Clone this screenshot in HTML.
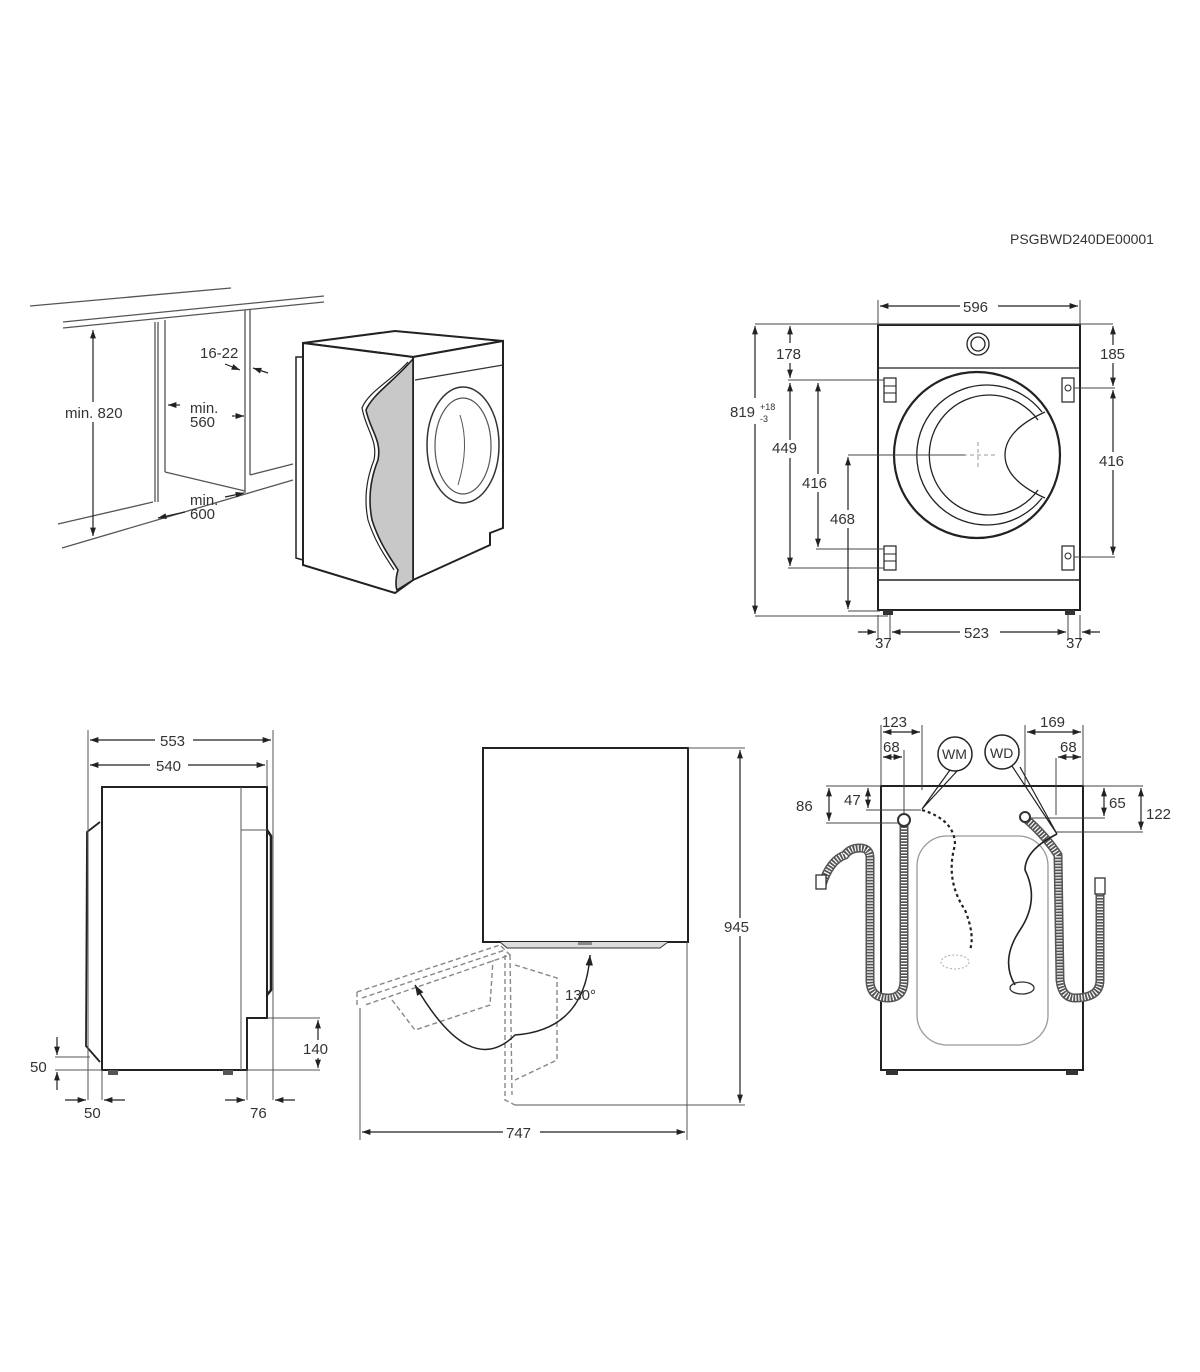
<!DOCTYPE html>
<html><head><meta charset="utf-8"><style>
html,body{margin:0;padding:0;background:#fff;}
svg{display:block;}
text{font-family:"Liberation Sans",sans-serif;font-size:15px;fill:#333;}
</style></head><body>
<svg width="1200" height="1372" viewBox="0 0 1200 1372" xmlns="http://www.w3.org/2000/svg">
<defs>
<marker id="a" viewBox="0 0 10 10" refX="10" refY="5" markerWidth="7" markerHeight="7" orient="auto-start-reverse"><path d="M0,1.5 L10,5 L0,8.5 z" fill="#222"/></marker>
</defs>
<text x="1010" y="244" style="font-size:14px">PSGBWD240DE00001</text>

<!-- TOP LEFT -->
<g stroke="#555" fill="none" stroke-width="1.3">
<line x1="30" y1="306" x2="231" y2="288"/>
<line x1="63" y1="322" x2="324" y2="296"/>
<line x1="63" y1="328" x2="324" y2="302"/>
<line x1="155" y1="322" x2="155" y2="502"/>
<line x1="158" y1="322" x2="158" y2="502"/>
<line x1="58" y1="524" x2="153" y2="502"/>
<line x1="62" y1="548" x2="293" y2="480"/>
<line x1="165" y1="320" x2="165" y2="472"/>
<line x1="165" y1="472" x2="245" y2="491"/>
<line x1="245" y1="310" x2="245" y2="493"/>
<line x1="250" y1="310" x2="250" y2="475"/>
<line x1="250" y1="475" x2="293" y2="464"/>
</g>
<g stroke="#222" stroke-width="1.2">
<line x1="93" y1="330" x2="93" y2="536" marker-start="url(#a)" marker-end="url(#a)"/>
<line x1="225" y1="364" x2="240" y2="370" marker-end="url(#a)"/>
<line x1="268" y1="373" x2="253" y2="368" marker-end="url(#a)"/>
<line x1="180" y1="405" x2="168" y2="405" marker-end="url(#a)"/>
<line x1="232" y1="416" x2="244" y2="416" marker-end="url(#a)"/>
<line x1="225" y1="497" x2="244" y2="493" marker-end="url(#a)"/>
<line x1="185" y1="512" x2="158" y2="518" marker-end="url(#a)"/>
</g>
<rect x="64" y="402" width="72" height="20" fill="#fff"/>
<text x="65" y="418">min. 820</text>
<text x="200" y="358">16-22</text>
<text x="190" y="413">min.</text><text x="190" y="427">560</text>
<text x="190" y="505">min.</text><text x="190" y="519">600</text>
<!-- machine 3d -->
<g stroke="#222" fill="#fff" stroke-width="2">
<path d="M296,357 L303,357 L303,560 L296,558 Z" stroke-width="1.5"/>
<path d="M303,343 L395,331 L503,341 L413,357 Z"/>
<path d="M303,343 L413,357 L413,580 L395,593 L303,565 Z"/>
<path d="M413,357 L503,341 L503,528 L490,533 L490,545 L413,580 Z"/>
</g>
<line x1="415" y1="380" x2="503" y2="365" stroke="#333" stroke-width="1.2"/>
<ellipse cx="463" cy="445" rx="36" ry="58" fill="none" stroke="#333" stroke-width="1.5"/>
<ellipse cx="463" cy="446" rx="28" ry="48" fill="none" stroke="#555" stroke-width="1.2"/>
<path d="M460,415 Q470,446 458,485" fill="none" stroke="#555"/>
<path d="M412,360 C395,380 372,395 366,410 C370,430 382,440 378,460 C370,480 368,500 372,520 C380,545 392,560 398,570 C395,580 396,588 397,590 L413,580 L413,360 Z" fill="#c8c8c8" stroke="#222" stroke-width="1.6"/>
<path d="M408,362 C392,380 368,392 362,408 C366,430 378,440 374,460 C366,480 364,500 368,520 C376,545 388,560 394,570" fill="none" stroke="#222" stroke-width="1.2"/>

<!-- TOP RIGHT FRONT -->
<g stroke="#222" fill="none">
<rect x="878" y="325" width="202" height="285" stroke-width="2"/>
<line x1="878" y1="368" x2="1080" y2="368" stroke-width="1.2"/>
<line x1="878" y1="580" x2="1080" y2="580" stroke-width="1.6"/>
<circle cx="978" cy="344" r="11" stroke-width="1.3"/>
<circle cx="978" cy="344" r="7" stroke-width="1.3"/>
<circle cx="977" cy="455" r="83" stroke-width="2.2"/>
<path d="M1042,412 A70,70 0 1 0 1042,498" stroke-width="1.3"/>
<path d="M1038,420 A60,60 0 1 0 1038,490" stroke-width="1.3"/>
<path d="M1045,412 Q1005,430 1005,455 Q1005,480 1045,498" stroke-width="1.3"/>
<rect x="884" y="378" width="12" height="24" stroke-width="1.2"/>
<line x1="884" y1="386" x2="896" y2="386"/><line x1="884" y1="393" x2="896" y2="393"/>
<rect x="884" y="546" width="12" height="24" stroke-width="1.2"/>
<line x1="884" y1="554" x2="896" y2="554"/><line x1="884" y1="561" x2="896" y2="561"/>
<rect x="1062" y="378" width="12" height="24" stroke-width="1.2"/><circle cx="1068" cy="388" r="3"/>
<rect x="1062" y="546" width="12" height="24" stroke-width="1.2"/><circle cx="1068" cy="556" r="3"/>
<line x1="963" y1="455" x2="995" y2="455" stroke="#999" stroke-dasharray="4,3"/>
<line x1="978" y1="442" x2="978" y2="468" stroke="#999" stroke-dasharray="4,3"/>
</g>
<rect x="883" y="610" width="10" height="5" fill="#333"/><rect x="1065" y="610" width="10" height="5" fill="#333"/>
<g stroke="#444" stroke-width="1" fill="none">
<line x1="878" y1="300" x2="878" y2="325"/><line x1="1080" y1="300" x2="1080" y2="325"/>
<line x1="755" y1="324" x2="1113" y2="324"/>
<line x1="755" y1="616" x2="888" y2="616"/>
<line x1="788" y1="380" x2="884" y2="380"/>
<line x1="788" y1="568" x2="884" y2="568"/>
<line x1="816" y1="549" x2="884" y2="549"/>
<line x1="848" y1="455" x2="965" y2="455"/>
<line x1="848" y1="611" x2="880" y2="611"/>
<line x1="1074" y1="388" x2="1115" y2="388"/>
<line x1="1074" y1="557" x2="1115" y2="557"/>
<line x1="878" y1="615" x2="878" y2="640"/><line x1="890" y1="615" x2="890" y2="640"/>
<line x1="1068" y1="615" x2="1068" y2="640"/><line x1="1080" y1="615" x2="1080" y2="640"/>
</g>
<g stroke="#222" stroke-width="1.2">
<line x1="880" y1="306" x2="960" y2="306" marker-start="url(#a)"/><line x1="998" y1="306" x2="1078" y2="306" marker-end="url(#a)"/>
<line x1="755" y1="326" x2="755" y2="614" marker-start="url(#a)" marker-end="url(#a)"/>
<line x1="790" y1="326" x2="790" y2="378" marker-start="url(#a)" marker-end="url(#a)"/>
<line x1="790" y1="383" x2="790" y2="566" marker-start="url(#a)" marker-end="url(#a)"/>
<line x1="818" y1="383" x2="818" y2="547" marker-start="url(#a)" marker-end="url(#a)"/>
<line x1="848" y1="457" x2="848" y2="609" marker-start="url(#a)" marker-end="url(#a)"/>
<line x1="1113" y1="326" x2="1113" y2="386" marker-start="url(#a)" marker-end="url(#a)"/>
<line x1="1113" y1="390" x2="1113" y2="555" marker-start="url(#a)" marker-end="url(#a)"/>
<line x1="892" y1="632" x2="1066" y2="632" marker-start="url(#a)" marker-end="url(#a)"/>
<line x1="858" y1="632" x2="876" y2="632" marker-end="url(#a)"/>
<line x1="1100" y1="632" x2="1082" y2="632" marker-end="url(#a)"/>
</g>
<g fill="#fff"><rect x="775" y="343" width="30" height="20"/><rect x="772" y="440" width="34" height="18"/><rect x="802" y="474" width="32" height="18"/><rect x="830" y="510" width="34" height="18"/><rect x="1097" y="345" width="34" height="18"/><rect x="1097" y="452" width="34" height="18"/><rect x="960" y="622" width="40" height="18"/></g>
<text x="963" y="312">596</text>
<text x="776" y="359">178</text>
<text x="1100" y="359">185</text>
<text x="772" y="453">449</text>
<text x="802" y="488">416</text>
<text x="830" y="524">468</text>
<text x="1099" y="466">416</text>
<text x="964" y="638">523</text>
<text x="875" y="648">37</text>
<text x="1066" y="648">37</text>
<rect x="728" y="398" width="52" height="26" fill="#fff"/>
<text x="730" y="417">819</text><text x="760" y="410" style="font-size:9px">+18</text><text x="760" y="422" style="font-size:9px">-3</text>

<!-- BOTTOM LEFT SIDE -->
<g stroke="#222" fill="none" stroke-width="2">
<path d="M102,787 L267,787 L267,1018 L247,1018 L247,1070 L102,1070 Z"/>
<path d="M100,822 L87,832 L86,1046 L100,1062" stroke-width="1.8"/>
<path d="M267,830 L271,836 L271,990 L267,995" stroke-width="2.5"/>
</g>
<g stroke="#555" fill="none" stroke-width="1">
<line x1="241" y1="787" x2="241" y2="1070"/><line x1="241" y1="830" x2="267" y2="830"/>
<line x1="88" y1="730" x2="88" y2="1100"/><line x1="273" y1="730" x2="273" y2="1100"/>
<line x1="267" y1="760" x2="267" y2="787"/>
<line x1="102" y1="1070" x2="102" y2="1100"/><line x1="247" y1="1070" x2="247" y2="1100"/>
<line x1="267" y1="1018" x2="320" y2="1018"/><line x1="247" y1="1070" x2="320" y2="1070"/>
<line x1="55" y1="1057" x2="90" y2="1057"/><line x1="55" y1="1070" x2="102" y2="1070"/>
</g>
<rect x="108" y="1070" width="10" height="5" fill="#555"/><rect x="223" y="1070" width="10" height="5" fill="#555"/>
<g stroke="#222" stroke-width="1.2">
<line x1="90" y1="740" x2="155" y2="740" marker-start="url(#a)"/><line x1="193" y1="740" x2="271" y2="740" marker-end="url(#a)"/>
<line x1="90" y1="765" x2="150" y2="765" marker-start="url(#a)"/><line x1="188" y1="765" x2="265" y2="765" marker-end="url(#a)"/>
<line x1="318" y1="1020" x2="318" y2="1068" marker-start="url(#a)" marker-end="url(#a)"/>
<line x1="57" y1="1037" x2="57" y2="1055" marker-end="url(#a)"/>
<line x1="57" y1="1090" x2="57" y2="1072" marker-end="url(#a)"/>
<line x1="65" y1="1100" x2="86" y2="1100" marker-end="url(#a)"/>
<line x1="125" y1="1100" x2="104" y2="1100" marker-end="url(#a)"/>
<line x1="225" y1="1100" x2="245" y2="1100" marker-end="url(#a)"/>
<line x1="295" y1="1100" x2="275" y2="1100" marker-end="url(#a)"/>
</g>
<rect x="303" y="1040" width="30" height="18" fill="#fff"/>
<text x="160" y="746">553</text><text x="156" y="771">540</text>
<text x="303" y="1054">140</text>
<text x="30" y="1072">50</text>
<text x="84" y="1118">50</text>
<text x="250" y="1118">76</text>

<!-- BOTTOM MIDDLE TOP VIEW -->
<rect x="483" y="748" width="205" height="194" fill="none" stroke="#222" stroke-width="2"/>
<path d="M500,942 L507,948 L660,948 L668,942" fill="#ddd" stroke="#333"/>
<rect x="578" y="942" width="14" height="3" fill="#888"/>
<g stroke="#888" fill="none" stroke-width="1.4" stroke-dasharray="5,3">
<path d="M357,992 L500,945 L510,955 L365,1005"/>
<path d="M362,998 L505,950"/>
<path d="M392,1000 L415,1030 L490,1005 L493,960"/>
<path d="M505,955 L505,1100 L515,1105"/>
<path d="M510,955 L512,1095"/>
<path d="M515,965 L557,978 L557,1060 L515,1080"/>
<line x1="357" y1="992" x2="357" y2="1005"/>
</g>
<path d="M415,985 Q470,1080 515,1035 Q585,1030 590,955" fill="none" stroke="#222" stroke-width="1.5" marker-start="url(#a)" marker-end="url(#a)"/>
<text x="565" y="1000">130°</text>
<g stroke="#555" fill="none" stroke-width="1">
<line x1="688" y1="748" x2="745" y2="748"/>
<line x1="515" y1="1105" x2="745" y2="1105"/>
<line x1="360" y1="1008" x2="360" y2="1140"/>
<line x1="687" y1="942" x2="687" y2="1140"/>
</g>
<g stroke="#222" stroke-width="1.2">
<line x1="740" y1="750" x2="740" y2="1103" marker-start="url(#a)" marker-end="url(#a)"/>
<line x1="362" y1="1132" x2="503" y2="1132" marker-start="url(#a)"/><line x1="540" y1="1132" x2="685" y2="1132" marker-end="url(#a)"/>
</g>
<rect x="725" y="918" width="32" height="18" fill="#fff"/>
<text x="724" y="932">945</text>
<text x="506" y="1138">747</text>

<!-- BOTTOM RIGHT REAR -->
<rect x="881" y="786" width="202" height="284" fill="none" stroke="#222" stroke-width="2"/>
<rect x="917" y="836" width="131" height="209" rx="30" fill="none" stroke="#999" stroke-width="1.3"/>
<rect x="886" y="1070" width="12" height="5" fill="#333"/><rect x="1066" y="1070" width="12" height="5" fill="#333"/>
<g stroke="#444" fill="none" stroke-width="1">
<line x1="881" y1="725" x2="881" y2="786"/><line x1="922" y1="725" x2="922" y2="790"/><line x1="904" y1="750" x2="904" y2="815"/>
<line x1="1025" y1="725" x2="1025" y2="786"/><line x1="1083" y1="725" x2="1083" y2="786"/><line x1="1056" y1="758" x2="1056" y2="815"/>
<line x1="826" y1="786" x2="881" y2="786"/><line x1="1083" y1="786" x2="1143" y2="786"/>
<line x1="866" y1="810" x2="921" y2="810"/><line x1="826" y1="823" x2="900" y2="823"/>
<line x1="1025" y1="818" x2="1105" y2="818"/><line x1="1055" y1="832" x2="1143" y2="832"/>
</g>
<g stroke="#222" stroke-width="1.2">
<line x1="883" y1="732" x2="920" y2="732" marker-start="url(#a)" marker-end="url(#a)"/>
<line x1="883" y1="757" x2="902" y2="757" marker-start="url(#a)" marker-end="url(#a)"/>
<line x1="1027" y1="732" x2="1081" y2="732" marker-start="url(#a)" marker-end="url(#a)"/>
<line x1="1058" y1="757" x2="1081" y2="757" marker-start="url(#a)" marker-end="url(#a)"/>
<line x1="829" y1="788" x2="829" y2="821" marker-start="url(#a)" marker-end="url(#a)"/>
<line x1="868" y1="788" x2="868" y2="808" marker-start="url(#a)" marker-end="url(#a)"/>
<line x1="1104" y1="788" x2="1104" y2="816" marker-start="url(#a)" marker-end="url(#a)"/>
<line x1="1141" y1="788" x2="1141" y2="830" marker-start="url(#a)" marker-end="url(#a)"/>
</g>
<text x="882" y="727">123</text><text x="883" y="752">68</text>
<text x="1040" y="727">169</text><text x="1060" y="752">68</text>
<text x="796" y="811">86</text><text x="844" y="805">47</text>
<text x="1109" y="808">65</text><text x="1146" y="819">122</text>
<circle cx="955" cy="754" r="17" fill="#fff" stroke="#222" stroke-width="1.5"/>
<text x="942" y="759" style="font-size:14px">WM</text>
<circle cx="1002" cy="752" r="17" fill="#fff" stroke="#222" stroke-width="1.5"/>
<text x="990" y="758" style="font-size:14px">WD</text>
<path d="M950,770 L922,809 L958,770" fill="none" stroke="#222" stroke-width="1.2"/>
<path d="M1012,766 L1057,834 L1020,767" fill="none" stroke="#222" stroke-width="1.2"/>
<g fill="none" stroke-linecap="butt">
<path d="M904,822 L904,980 Q904,998 888,998 Q870,998 870,980 L870,858 Q870,848 860,848 Q850,848 845,855 Q830,860 822,885" stroke="#555" stroke-width="9"/>
<path d="M904,822 L904,980 Q904,998 888,998 Q870,998 870,980 L870,858 Q870,848 860,848 Q850,848 845,855 Q830,860 822,885" stroke="#fff" stroke-width="6" stroke-dasharray="1.2,1.8"/>
<path d="M1025,818 Q1045,835 1058,855 L1060,980 Q1062,998 1075,998 Q1100,998 1100,980 L1100,890" stroke="#555" stroke-width="9"/>
<path d="M1025,818 Q1045,835 1058,855 L1060,980 Q1062,998 1075,998 Q1100,998 1100,980 L1100,890" stroke="#fff" stroke-width="6" stroke-dasharray="1.2,1.8"/>
<path d="M922,810 Q955,820 955,845 Q945,880 965,910 Q975,935 970,950" stroke="#222" stroke-width="2.2" stroke-dasharray="3,3"/>
<path d="M1057,834 Q1025,850 1025,870 Q1040,900 1020,930 Q1000,960 1015,985" stroke="#222" stroke-width="1.6"/>
</g>
<circle cx="904" cy="820" r="6" fill="#fff" stroke="#333" stroke-width="2"/>
<circle cx="1025" cy="817" r="5" fill="#fff" stroke="#333" stroke-width="2"/>
<rect x="816" y="875" width="10" height="14" fill="#fff" stroke="#333" stroke-width="1.3"/>
<rect x="1095" y="878" width="10" height="16" fill="#fff" stroke="#333" stroke-width="1.3"/>
<ellipse cx="955" cy="962" rx="14" ry="7" fill="none" stroke="#aaa" stroke-dasharray="2,2"/>
<ellipse cx="1022" cy="988" rx="12" ry="6" fill="none" stroke="#333" stroke-width="1.3"/>
</svg>
</body></html>
